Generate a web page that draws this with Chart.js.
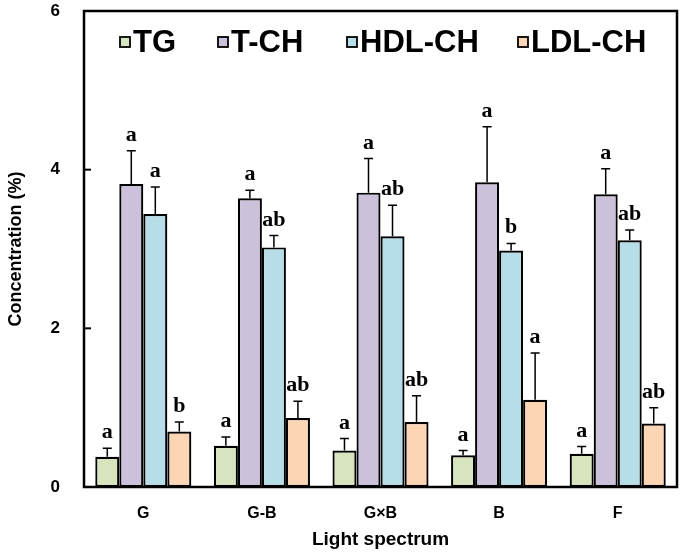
<!DOCTYPE html>
<html>
<head>
<meta charset="utf-8">
<script src="https://cdn.jsdelivr.net/npm/chart.js@4.4.1/dist/chart.umd.min.js"></script>
<style>
  html, body { margin: 0; padding: 0; background: #ffffff; }
  #wrap { width: 685px; height: 559px; position: relative; }
</style>
</head>
<body>
<div id="wrap"><canvas id="c" width="685" height="559"></canvas></div>
<script>
const categories = ['G', 'G-B', 'G×B', 'B', 'F'];
const seriesNames = ['TG', 'T-CH', 'HDL-CH', 'LDL-CH'];
const tgValues  = [0.38, 0.52, 0.46, 0.40, 0.42];
const tgErrors  = [0.11, 0.11, 0.15, 0.06, 0.09];
const tchValues = [3.82, 3.64, 3.71, 3.84, 3.69];
const tchErrors = [0.42, 0.10, 0.43, 0.70, 0.32];
const hdlValues = [3.44, 3.02, 3.16, 2.98, 3.11];
const hdlErrors = [0.34, 0.15, 0.39, 0.09, 0.13];
const ldlValues = [0.70, 0.87, 0.82, 1.10, 0.80];
const ldlErrors = [0.12, 0.21, 0.33, 0.59, 0.20];
const tgLetters  = ['a', 'a', 'a', 'a', 'a'];
const tchLetters = ['a', 'a', 'a', 'a', 'a'];
const hdlLetters = ['a', 'ab', 'ab', 'b', 'ab'];
const ldlLetters = ['b', 'ab', 'ab', 'a', 'ab'];
const yTicks = [0, 2, 4, 6];

const colors = ['#D7E4BD', '#CCC1DA', '#B7DEE8', '#FCD5B5'];
const values = [tgValues, tchValues, hdlValues, ldlValues];
const errors = [tgErrors, tchErrors, hdlErrors, ldlErrors];
const letters = [tgLetters, tchLetters, hdlLetters, ldlLetters];

const SANS = '"Liberation Sans", Arial, sans-serif';
const SERIF = '"Liberation Serif", "Times New Roman", serif';

const decorPlugin = {
  id: 'decor',
  afterDatasetsDraw(chart) {
    const ctx = chart.ctx;
    const y = chart.scales.y;
    ctx.save();
    chart.data.datasets.forEach((ds, di) => {
      const meta = chart.getDatasetMeta(di);
      meta.data.forEach((bar, i) => {
        const v = ds.data[i];
        const e = ds.errors[i];
        const yTop = y.getPixelForValue(v);
        const yErr = y.getPixelForValue(v + e);
        ctx.strokeStyle = '#000';
        ctx.lineWidth = 1.5;
        ctx.beginPath();
        ctx.moveTo(bar.x, yTop);
        ctx.lineTo(bar.x, yErr);
        ctx.moveTo(bar.x - 4.5, yErr);
        ctx.lineTo(bar.x + 4.5, yErr);
        ctx.stroke();
        ctx.fillStyle = '#000';
        ctx.font = 'bold 22px ' + SERIF;
        ctx.textAlign = 'center';
        ctx.textBaseline = 'alphabetic';
        ctx.fillText(ds.letters[i], bar.x, yErr - 10);
      });
    });
    ctx.restore();
  },
  afterDraw(chart) {
    const ctx = chart.ctx;
    const y = chart.scales.y;
    const ca = chart.chartArea;
    ctx.save();
    ctx.strokeStyle = '#000';
    ctx.lineWidth = 2.5;
    ctx.strokeRect(ca.left, ca.top, ca.right - ca.left, ca.bottom - ca.top);
    ctx.lineWidth = 2;
    yTicks.forEach(t => {
      const py = y.getPixelForValue(t);
      ctx.beginPath();
      ctx.moveTo(ca.left, py);
      ctx.lineTo(ca.left + 7, py);
      ctx.stroke();
    });
    const boxX = [120, 218, 347, 518];
    ctx.font = 'bold 31px ' + SANS;
    ctx.textBaseline = 'middle';
    ctx.textAlign = 'left';
    chart.data.datasets.forEach((ds, di) => {
      const bx = boxX[di];
      ctx.fillStyle = ds.backgroundColor;
      ctx.fillRect(bx, 37, 10, 10);
      ctx.lineWidth = 1.8;
      ctx.strokeStyle = '#000';
      ctx.strokeRect(bx, 37, 10, 10);
      ctx.fillStyle = '#000';
      ctx.fillText(ds.label, bx + 13, 43);
    });
    ctx.restore();
  }
};

const datasets = seriesNames.map((name, i) => ({
  label: name,
  data: values[i],
  errors: errors[i],
  letters: letters[i],
  backgroundColor: colors[i],
  borderColor: '#000',
  borderWidth: 2.2,
  borderSkipped: false,
  barPercentage: 1.0,
  categoryPercentage: 0.81
}));

new Chart(document.getElementById('c'), {
  type: 'bar',
  data: { labels: categories, datasets },
  options: {
    responsive: false,
    animation: false,
    devicePixelRatio: 1,
    layout: { padding: { top: 11, right: 8, left: 0, bottom: 0 } },
    plugins: { legend: { display: false }, tooltip: { enabled: false } },
    scales: {
      x: {
        grid: { display: false, drawTicks: false },
        border: { display: false },
        ticks: { color: '#000', font: { family: SANS, weight: 'bold', size: 16 }, padding: 17 },
        title: { display: true, text: 'Light spectrum', color: '#000',
                 font: { family: SANS, weight: 'bold', size: 19 }, padding: { top: 4, bottom: 8 } },
        afterFit(scale) { scale.height = 72; scale.paddingLeft = 0; scale.paddingRight = 0; }
      },
      y: {
        min: 0, max: 6,
        afterBuildTicks(scale) { scale.ticks = yTicks.map(v => ({ value: v })); },
        grid: { display: false, drawTicks: false },
        border: { display: false },
        ticks: { color: '#000', font: { family: SANS, weight: 'bold', size: 17 }, padding: 24 },
        title: { display: true, text: 'Concentration (%)', color: '#000',
                 font: { family: SANS, weight: 'bold', size: 18 }, padding: { top: 5, bottom: 0 } },
        afterFit(scale) { scale.width = 84; scale.paddingTop = 0; scale.paddingBottom = 0; }
      }
    }
  },
  plugins: [decorPlugin]
});
</script>
</body>
</html>
